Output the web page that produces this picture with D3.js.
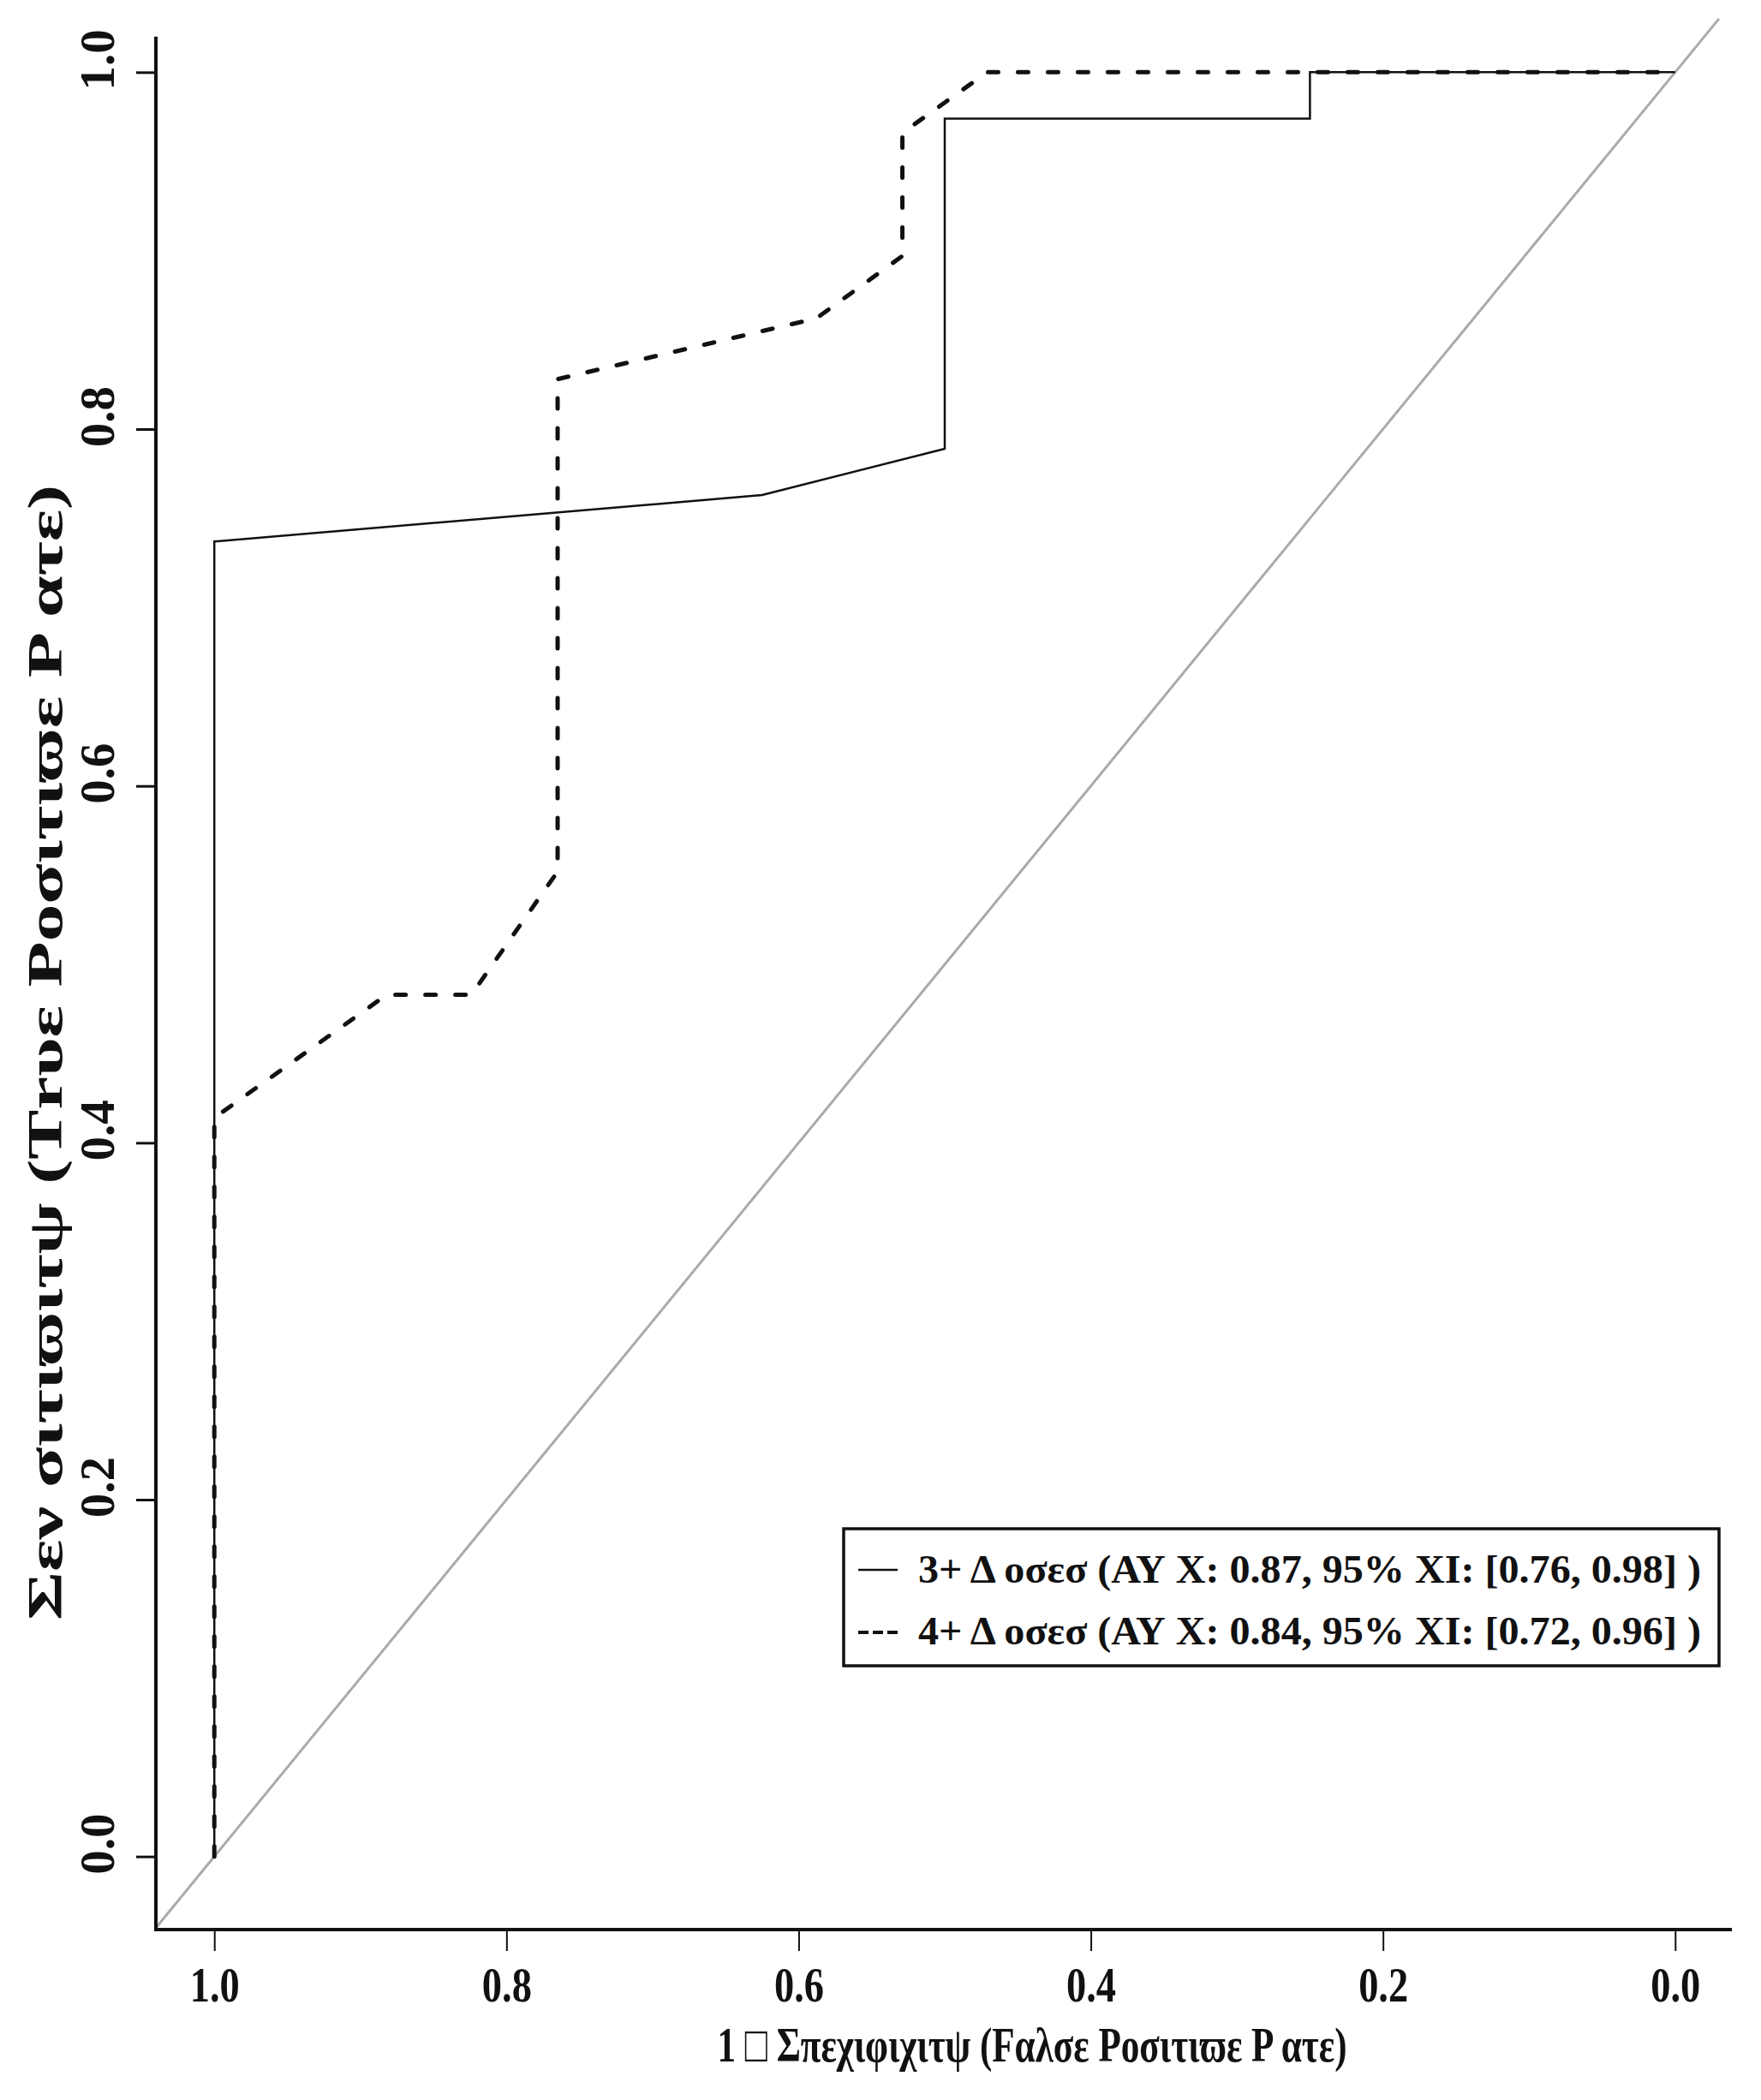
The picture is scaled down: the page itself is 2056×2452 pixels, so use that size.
<!DOCTYPE html>
<html>
<head>
<meta charset="utf-8">
<script src="https://cdn.jsdelivr.net/npm/d3@7"></script>
<style>
  html, body { margin: 0; padding: 0; background: #ffffff; }
  svg text { font-family: "Liberation Serif", "Times New Roman", serif; font-weight: bold; fill: #111; }
</style>
</head>
<body>
<svg id="chart" width="2056" height="2452"></svg>
<script>
// ---- data ----
const spec3 = [1, 1, 0.625, 0.5, 0.5, 0.25, 0.25, 0];
const sens3 = [0, 0.737, 0.763, 0.789, 0.974, 0.974, 1, 1];
const spec4 = [1, 1, 0.882, 0.824, 0.765, 0.765, 0.588, 0.529, 0.529, 0.471, 0];
const sens4 = [0, 0.414, 0.483, 0.483, 0.552, 0.828, 0.862, 0.897, 0.966, 1, 1];
const xTicks = [1.0, 0.8, 0.6, 0.4, 0.2, 0.0];
const yTicks = [0.0, 0.2, 0.4, 0.6, 0.8, 1.0];
const legendLabels = [
  "3+ Δ οσεσ (ΑΥ Χ: 0.87, 95%  ΧΙ: [0.76, 0.98] )",
  "4+ Δ οσεσ (ΑΥ Χ: 0.84, 95%  ΧΙ: [0.72, 0.96] )"
];
const xTitle = "1 \u25A1 Σπεχιφιχιτψ (Fαλσε Ροσιτιϖε Ρ ατε)";
const yTitle = "Σεν σιτιϖιτψ (Τrυε Ροσιτιϖε Ρ ατε)";

// ---- drawing ----
const svg = d3.select("#chart");
svg.append("rect").attr("width", 2056).attr("height", 2452).attr("fill", "#ffffff");

const x = d3.scaleLinear().domain([1.04, -0.04]).range([182, 2024]);
const y = d3.scaleLinear().domain([-0.04, 1.04]).range([2251, 1]);

// diagonal reference line
svg.append("line")
  .attr("x1", x(1.04)).attr("y1", y(-0.04))
  .attr("x2", x(-0.03)).attr("y2", y(1.03))
  .attr("stroke", "#aaaaaa").attr("stroke-width", 3);

// axis lines
svg.append("line")
  .attr("x1", x(1.04)).attr("x2", x(1.04))
  .attr("y1", y(1.02)).attr("y2", y(-0.04) + 3)
  .attr("stroke", "#111").attr("stroke-width", 4);
svg.append("line")
  .attr("x1", x(1.04) - 2).attr("x2", x(-0.04) - 2)
  .attr("y1", y(-0.04) + 2).attr("y2", y(-0.04) + 2)
  .attr("stroke", "#111").attr("stroke-width", 4);

// y axis
const yAxis = svg.append("g")
  .attr("transform", `translate(${x(1.04) - 1},0)`)
  .call(d3.axisLeft(y).tickValues(yTicks).tickFormat(d3.format(".1f")).tickSize(22).tickPadding(0));
yAxis.select(".domain").remove();
yAxis.selectAll(".tick line").attr("stroke", "#111").attr("stroke-width", 3);
yAxis.selectAll(".tick text")
  .attr("x", null).attr("dy", null)
  .attr("text-anchor", "middle")
  .attr("font-size", 57)
  .attr("transform", "translate(-48,-15) rotate(-90)");

// x axis
const xAxis = svg.append("g")
  .attr("transform", `translate(0,${y(-0.04) + 3})`)
  .call(d3.axisBottom(x).tickValues(xTicks).tickFormat(d3.format(".1f")).tickSize(24).tickPadding(0));
xAxis.select(".domain").remove();
xAxis.selectAll(".tick line").attr("stroke", "#111").attr("stroke-width", 2);
xAxis.selectAll(".tick text")
  .attr("y", 83).attr("dy", null)
  .attr("font-size", 56)
  .attr("textLength", 58).attr("lengthAdjust", "spacingAndGlyphs");

// axis titles
svg.append("text")
  .attr("x", 1205).attr("y", 2407)
  .attr("text-anchor", "middle").attr("font-size", 58)
  .attr("textLength", 735).attr("lengthAdjust", "spacingAndGlyphs")
  .text(xTitle);
svg.append("text")
  .attr("transform", "translate(72,1229) rotate(-90)")
  .attr("text-anchor", "middle").attr("font-size", 56)
  .attr("textLength", 1326).attr("lengthAdjust", "spacingAndGlyphs")
  .text(yTitle);

// curves
const line = d3.line().x(d => x(d[0])).y(d => y(d[1]));
const pts3 = spec3.map((s, i) => [s, sens3[i]]);
const pts4 = spec4.map((s, i) => [s, sens4[i]]);

svg.append("path").datum(pts3).attr("d", line)
  .attr("fill", "none").attr("stroke", "#111").attr("stroke-width", 2.5);
svg.append("path").datum(pts4).attr("d", line)
  .attr("fill", "none").attr("stroke", "#111").attr("stroke-width", 5)
  .attr("stroke-dasharray", "12,23").attr("stroke-linecap", "round");

// legend
const lg = svg.append("g");
lg.append("rect").attr("x", 985).attr("y", 1785).attr("width", 1022).attr("height", 160)
  .attr("fill", "#fff").attr("stroke", "#111").attr("stroke-width", 3.5);
const baseY = [1848, 1920];
const lineY = [1833, 1906];
lg.append("line").attr("x1", 1002).attr("x2", 1048).attr("y1", lineY[0]).attr("y2", lineY[0])
  .attr("stroke", "#111").attr("stroke-width", 2.7);
lg.append("line").attr("x1", 1002).attr("x2", 1048).attr("y1", lineY[1]).attr("y2", lineY[1])
  .attr("stroke", "#111").attr("stroke-width", 4).attr("stroke-dasharray", "12,5");
legendLabels.forEach((t, i) => {
  lg.append("text").attr("x", 1072).attr("y", baseY[i])
    .attr("font-size", 46)
    .attr("textLength", 914).attr("lengthAdjust", "spacingAndGlyphs")
    .text(t);
});
</script>
</body>
</html>
